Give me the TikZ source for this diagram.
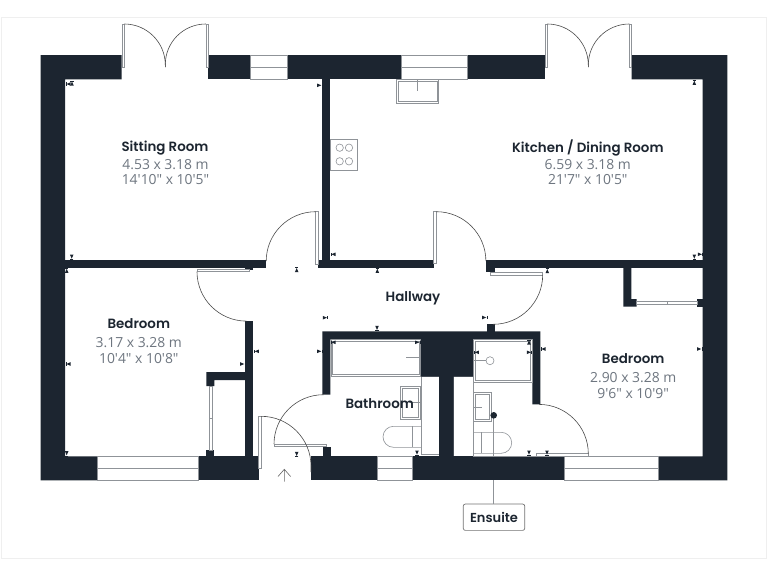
\documentclass[tikz,border=0pt]{standalone}
\usepackage{fontspec}
\setmainfont{Poppins SemiBold}
\newfontfamily\dimfont{Open Sans}
\definecolor{wallc}{HTML}{1C2530}
\definecolor{linec}{HTML}{8F9398}
\definecolor{dimc}{HTML}{6E7680}
\definecolor{framec}{HTML}{EFEFEF}
\newcommand{\tick}[3]{\begin{scope}[shift={(#1,#2)},rotate=#3]\fill[wallc] (-1.8,2.2)--(1.8,2.2)--(0,-2.0)--cycle;\draw[wallc,line width=.4pt] (-1.6,-2.4)--(1.6,-2.4);\end{scope}}
\tikzset{
 wall/.style={fill=wallc,draw=none},
 fix/.style={draw=linec,line width=.6pt,fill=white},
 leaf/.style={draw=linec,line width=.6pt},
 swing/.style={draw=black!70,line width=.6pt},
 roomname/.style={font=\fontsize{13.4}{15}\selectfont,text=wallc,inner sep=0pt,text depth=0pt},
 roomdim/.style={font=\dimfont\fontsize{13.9}{15}\selectfont,text=dimc,inner sep=0pt,yshift=-1pt},
 ensbox/.style={draw=black!55,rounded corners=2pt,line width=.7pt,fill=white,minimum width=61.4pt,minimum height=26.3pt,inner sep=0pt,font=\fontsize{13}{15}\selectfont,text=wallc}
}
\begin{document}
\begin{tikzpicture}[x=1pt,y=-1pt]
\useasboundingbox (0,0) rectangle (768,576);
\fill[white] (0,0) rectangle (768,576);
\draw[framec,line width=.9pt] (1.3,17) rectangle (766,558);
% leader
\coordinate (dotc) at (493.7,415.3);
\node[ensbox] (ens) at (494,517.2) {Ensuite};
\draw[linec,line width=.7pt] (dotc) -- (ens.north -| dotc);
% fittings under walls
\draw[fix] (421,376.5) rectangle (439,454.5);
\draw[fix] (453.7,376.5) rectangle (473.5,456);
% outer wall
\fill[wall] (40.7,55) -- (121.7,55) -- (121.7,79.3) -- (65,79.3) -- (65,456.3) -- (97.3,456.3) -- (97.3,480.3) -- (40.7,480.3) -- cycle;
\fill[wall] (208.3,55) rectangle (250.3,79.3);
\fill[wall] (287.7,55) rectangle (401.7,79.3);
\fill[wall] (467.7,55) rectangle (545,79.3);
\fill[wall] (631.7,55) -- (727.3,55) -- (727.3,480.3) -- (658.7,480.3) -- (658.7,456.3) -- (702.7,456.3) -- (702.7,79.3) -- (631.7,79.3) -- cycle;
\fill[wall] (198.3,456.3) rectangle (258.7,480.3);
\fill[wall] (311,456.3) rectangle (377,480.3);
\fill[wall] (412.3,456.3) rectangle (564.7,480.3);
% inner walls
\fill[wall] (322.3,79.3) rectangle (330.3,259.7);
\fill[wall] (65,259.7) rectangle (266.3,267.7);
\fill[wall] (318,259.7) rectangle (433.7,267.7);
\fill[wall] (485.7,259.7) rectangle (703,267.7);
\fill[wall] (485.7,267) rectangle (495,272);
\fill[wall] (245,267) rectangle (253,270.3);
% left bedroom east wall + closet
\fill[wall] (245,321) rectangle (253,456.3);
\fill[wall] (206.3,372) -- (245,372) -- (245,380) -- (214.3,380) -- (214.3,386) -- (206.3,386) -- cycle;
\fill[wall] (206.3,450) rectangle (214.3,456.3);
% right closet
\fill[wall] (623.3,267) -- (631.3,267) -- (631.3,299) -- (636.7,299) -- (636.7,306.7) -- (623.3,306.7) -- cycle;
\fill[wall] (697.3,299) rectangle (703,306.7);
% bathroom block
\fill[wall] (322.3,331.3) -- (540.3,331.3) -- (540.3,404.3) -- (532.3,404.3) -- (532.3,339.3) -- (473.7,339.3) -- (473.7,376.5) -- (453.7,376.5) -- (453.7,456.5) -- (439,456.5) -- (439,376.5) -- (420.7,376.5) -- (420.7,339.3) -- (330.3,339.3) -- (330.3,394.7) -- (322.3,394.7) -- cycle;
\fill[wall] (486.7,324.3) rectangle (494.7,331.5);
\fill[wall] (322.7,446.7) rectangle (330.7,456.5);
% windows
\foreach \a/\b/\c/\d in {250.3/287.7/55/79.3, 401.7/467.7/55/79.3, 97.3/198.3/456.3/480.3, 377/412.3/456.3/480.3, 564.7/658.7/456.3/480.3}{
  \draw[fix] (\a,\c) rectangle (\b,\d);
  \draw[leaf] (\a,{(\c+\d)/2}) -- (\b,{(\c+\d)/2});
}
% french doors
\draw[leaf] (122,24) rectangle (124.3,67.2);
\draw[swing] (124.3,24) arc[start angle=-90,end angle=0,radius=41] -- (165.3,67);
\draw[leaf] (205.8,24) rectangle (208,67.2);
\draw[swing] (205.8,24) arc[start angle=270,end angle=180,radius=40.5] -- (165.3,67);
\draw[leaf] (545,24) rectangle (547.3,67.2);
\draw[swing] (547.3,24) arc[start angle=-90,end angle=0,radius=41] -- (588.3,67);
\draw[leaf] (629.3,24) rectangle (631.7,67.2);
\draw[swing] (629.3,24) arc[start angle=270,end angle=180,radius=41] -- (588.3,67);
% internal doors
\draw[leaf] (315.7,211.7) rectangle (318.3,264);
\draw[swing] (315.7,211.7) arc[start angle=-90,end angle=-180,radius=49.5];
\draw[leaf] (433.7,211.7) rectangle (436.4,263.5);
\draw[swing] (436.4,211.7) arc[start angle=-90,end angle=0,radius=49.5];
\draw[leaf] (197,269) rectangle (249.3,271.6);
\draw[swing] (197,271.6) arc[start angle=180,end angle=90,radius=49.5];
\draw[leaf] (490,272.2) rectangle (542.7,274.8);
\draw[swing] (542.7,274.8) arc[start angle=0,end angle=90,radius=49.5];
\draw[leaf] (536.3,453.7) rectangle (588.3,456.3);
\draw[swing] (588.3,453.7) arc[start angle=0,end angle=-90,radius=49.3];
\draw[leaf] (274,444.2) rectangle (326.7,446.7);
\draw[swing] (274,444.2) arc[start angle=180,end angle=270,radius=49.5];
\draw[leaf] (258.7,416.3) rectangle (261.2,468.3);
\draw[swing] (261.2,416.3) arc[start angle=-90,end angle=0,radius=49.8] -- (311,472);
% sliding doors
\draw[leaf] (209.3,386) rectangle (212,450);
\draw[leaf] (209.3,418) -- (212,418);
\draw[leaf] (636.7,301.7) rectangle (697.3,304);
\draw[leaf] (667,301.7) -- (667,304);
% entrance arrow
\draw[black!60,line width=.6pt] (284.3,481.7) -- (284.3,469.3) (278,476.5) -- (284.3,469.3) -- (290.6,476.5);
% kitchen sink
\draw[fix] (396.7,79.7) rectangle (438.7,103.7);
\draw[leaf] (398,81) rectangle (437.4,101.7);
\draw[leaf] (417.7,79.7) -- (417.7,91.3);
% hob
\draw[fix] (330.7,139) rectangle (357.7,170.3);
\foreach \x in {339.7,349}\foreach \y in {147.7,161.3}\draw[leaf] (\x,\y) circle (3.7);
% bath
\draw[fix] (331.3,339.7) rectangle (420.3,376);
\draw[leaf] (332.6,341) rectangle (419,374.7);
\draw[leaf] (406,357.7) -- (420.7,357.7);
% bathroom basin
\draw[fix] (400.7,386.3) rectangle (420.7,419.3);
\draw[leaf] (402.7,388.3) rectangle (418.7,417.3);
\draw[leaf] (408.7,402.3) -- (420.7,402.3);
% bathroom wc
\draw[leaf] (421,426.3) -- (393.5,426.3) arc[start angle=-90,end angle=-270,radius=10.5] -- (421,447.3);
\draw[leaf] (412.3,426.3) -- (412.3,447.3);
% shower
\draw[fix] (473.7,339.7) rectangle (532,382);
\draw[leaf] (475,341) rectangle (530.7,380.7);
\draw[leaf] (474,360.7) -- (486,360.7);
\draw[leaf] (490,360.7) circle (4);
% ensuite basin
\draw[fix] (473.3,392.3) rectangle (491.7,421.7);
\draw[leaf] (475.3,394.3) rectangle (489.7,419.7);
\draw[leaf] (473.3,407.3) -- (482,407.3);
\draw[linec,line width=.7pt] (dotc) -- (dotc |- 0,456);
\fill[wallc] (dotc) circle (3.3);
% ensuite wc
\draw[leaf] (473.3,432.3) -- (501.2,432.3) arc[start angle=-90,end angle=90,radius=10.5] -- (473.3,453.3);
\draw[leaf] (481.7,432.3) -- (481.7,453.3);
\draw[leaf] (473.3,456.2) -- (536.3,456.2);
\draw[leaf] (473.5,382) -- (473.5,456.2);
% dimension ticks
\tick{72}{83.5}{0}
\tick{68.5}{84}{90}
\tick{319.3}{85.3}{-90}
\tick{71.7}{256.7}{180}
\tick{333.3}{254.3}{90}
\tick{296.7}{270}{0}
\tick{66.7}{270.7}{0}
\tick{694.3}{82.7}{0}
\tick{700}{254.3}{-90}
\tick{694.3}{256.7}{180}
\tick{377.3}{270.7}{0}
\tick{547.3}{271}{0}
\tick{68.3}{364}{90}
\tick{242.3}{364}{-90}
\tick{66.7}{453.3}{180}
\tick{325}{317.7}{-90}
\tick{256.7}{351.3}{90}
\tick{319.3}{351.3}{-90}
\tick{296.7}{454}{180}
\tick{377}{328}{180}
\tick{484.3}{317.5}{-90}
\tick{333.3}{342.3}{90}
\tick{417.3}{342.3}{-90}
\tick{417}{452.7}{180}
\tick{476.7}{352.3}{90}
\tick{529}{352.3}{-90}
\tick{529}{342.3}{0}
\tick{543.3}{349}{90}
\tick{529}{452.7}{180}
\tick{547}{452.7}{180}
\tick{699.3}{349}{-90}
% labels
\node[roomname] (n1) at (165,146) {Sitting Room};
\node[roomdim] (d1a) at (165.5,164) {4.53 x 3.18 m};
\node[roomdim] (d1b) at (165.5,179) {14'10" x 10'5"};
\node[roomname] (n2) at (587.8,146) {Kitchen / Dining Room};
\node[roomdim] (d2a) at (587.8,164) {6.59 x 3.18 m};
\node[roomdim] (d2b) at (587.8,179) {21'7" x 10'5"};
\node[roomname] (n3) at (138.8,323.3) {Bedroom};
\node[roomdim] (d3a) at (138.8,342) {3.17 x 3.28 m};
\node[roomdim] (d3b) at (138.8,357.3) {10'4" x 10'8"};
\node[roomname] (n4) at (633.2,358.3) {Bedroom};
\node[roomdim] (d4a) at (633.2,376.7) {2.90 x 3.28 m};
\node[roomdim] (d4b) at (633.2,392.3) {9'6" x 10'9"};
\node[roomname] (n5) at (413,297) {Hallway};
\node[roomname] (n6) at (379.7,403.7) {Bathroom};
\end{tikzpicture}
\end{document}
